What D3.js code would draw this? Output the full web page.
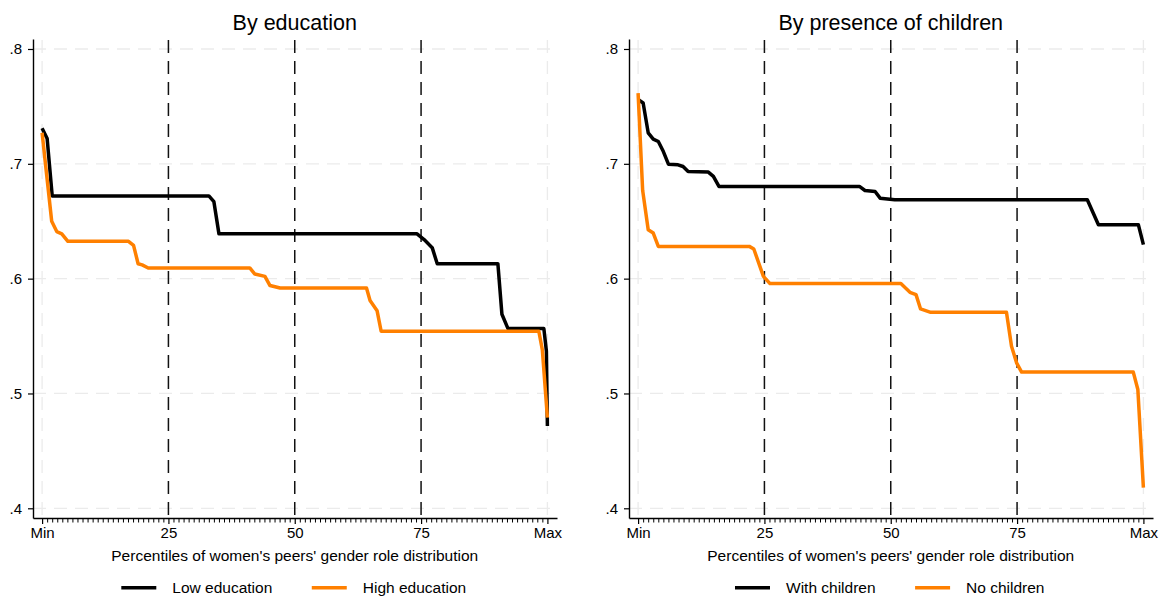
<!DOCTYPE html>
<html>
<head>
<meta charset="utf-8">
<script src="https://cdn.jsdelivr.net/npm/d3@7"></script>
<style>
  body { margin: 0; background: #fff; }
  svg { display: block; font-family: "Liberation Sans", Arial, sans-serif; }
</style>
</head>
<body>
<svg width="1163" height="600"></svg>
<script>
// [percentile, share]
const lowEducation = [[0,0.731],[1,0.722],[2,0.672],[33,0.672],[34,0.667],[35,0.639],[74.2,0.639],[75.6,0.634],[77.2,0.627],[78.2,0.613],[90.2,0.613],[91,0.569],[92.2,0.5565],[99.3,0.5565],[99.8,0.537],[100,0.4716]]
const highEducation = [[0,0.727],[1.9,0.65],[2.9,0.641],[3.9,0.639],[5.1,0.6325],[17.1,0.6325],[18.1,0.629],[19,0.613],[19.8,0.612],[21,0.6093],[41.1,0.6093],[42.1,0.604],[44.1,0.602],[45.1,0.594],[47.1,0.5918],[64.2,0.5918],[64.9,0.581],[66.3,0.572],[67.1,0.5542],[98.3,0.5542],[99,0.538],[100,0.4789]]
const withChildren = [[0,0.756],[1,0.753],[2,0.727],[3,0.7215],[4,0.7194],[5,0.7107],[6,0.6997],[7.9,0.6991],[8.9,0.6977],[9.9,0.6933],[13.9,0.6928],[14.9,0.689],[16,0.6803],[43.8,0.6803],[44.9,0.6768],[46.9,0.6759],[47.9,0.6701],[50.8,0.6687],[88.9,0.6687],[91.1,0.647],[99,0.647],[100,0.6296]]
const noChildren = [[0,0.7615],[0.9,0.677],[2,0.6426],[3,0.6397],[4,0.6281],[22,0.6281],[22.9,0.6258],[24.8,0.602],[26.1,0.5957],[52,0.5957],[53.8,0.5881],[55,0.5861],[55.9,0.5736],[57.9,0.5707],[72.9,0.5707],[73.9,0.5411],[74.9,0.5267],[75.9,0.5186],[98,0.5186],[98.9,0.5035],[100,0.418]]

const panelTitles = ["By education", "By presence of children"]
const seriesNames = [["Low education", "High education"], ["With children", "No children"]]
const yTicks = [0.4, 0.5, 0.6, 0.7, 0.8]
const xTicks = [0, 25, 50, 75, 100]
const xTickLabels = {0: "Min", 25: "25", 50: "50", 75: "75", 100: "Max"}
const refLines = [25, 50, 75]
const xTitle = "Percentiles of women's peers' gender role distribution"

const colors = ["#000000", "#ff8000"]

const svg = d3.select("svg")

const plotTop = 39, plotBottom = 518
const y = d3.scaleLinear().domain([0.39155, 0.8087]).range([plotBottom, plotTop])

function drawPanel(offset, title, names, lines) {
    const left = 33 + offset, right = 557 + offset
    const x = d3.scaleLinear().domain([-1.8, 101.9]).range([left, right])
    const g = svg.append("g")
    const mid = (x(0) + x(100)) / 2

    // light grid
    g.append("g").selectAll("line").data(yTicks).enter().append("line")
        .attr("x1", left).attr("x2", right - 3)
        .attr("y1", d => y(d)).attr("y2", d => y(d))
        .attr("stroke", "#ebebeb").attr("stroke-width", 1.3)
        .attr("stroke-dasharray", "13,8")
    g.append("g").selectAll("line").data([0, 100]).enter().append("line")
        .attr("x1", d => x(d)).attr("x2", d => x(d))
        .attr("y1", plotTop + 1).attr("y2", plotBottom)
        .attr("stroke", "#ebebeb").attr("stroke-width", 1.3)
        .attr("stroke-dasharray", "13,8")

    // quartile markers
    g.append("g").selectAll("line").data(refLines).enter().append("line")
        .attr("x1", d => x(d)).attr("x2", d => x(d))
        .attr("y1", plotTop + 1).attr("y2", plotBottom)
        .attr("stroke", "#111").attr("stroke-width", 1.5)
        .attr("stroke-dasharray", "13,8")

    // axes
    const minor = d3.range(1, 100).filter(d => d % 25 != 0)
    g.append("g").attr("transform", `translate(0,${plotBottom})`)
        .call(d3.axisBottom(x).tickValues(minor).tickSize(4.5).tickSizeOuter(0).tickFormat(""))
        .call(a => a.select(".domain").remove())
        .call(a => a.selectAll("line").attr("stroke-width", 1))
    const xAxis = g.append("g").attr("transform", `translate(0,${plotBottom})`)
        .call(d3.axisBottom(x).tickValues(xTicks).tickSize(6).tickPadding(3.5).tickSizeOuter(0)
            .tickFormat(d => xTickLabels[d]))
    const yAxis = g.append("g").attr("transform", `translate(${left},0)`)
        .call(d3.axisLeft(y).tickValues(yTicks).tickSize(5).tickPadding(6).tickSizeOuter(0)
            .tickFormat(d => d3.format(".1f")(d).replace(/^0/, "")))
    for (const a of [xAxis, yAxis]) {
        a.selectAll("text").attr("font-size", 15).attr("fill", "#000").attr("font-family", null)
        a.selectAll("line").attr("stroke", "#000").attr("stroke-width", 1.2)
        a.select(".domain").attr("stroke", "#000").attr("stroke-width", 1.4)
    }

    // series
    const line = d3.line().x(d => x(d[0])).y(d => y(d[1]))
    lines.forEach((data, i) => {
        g.append("path").datum(data)
            .attr("d", line)
            .attr("fill", "none")
            .attr("stroke", colors[i])
            .attr("stroke-width", 3.5)
            .attr("stroke-linejoin", "round")
    })

    // titles
    g.append("text").attr("x", mid).attr("y", 30)
        .attr("text-anchor", "middle").attr("font-size", 21.5)
        .text(title)
    g.append("text").attr("x", mid).attr("y", 560.5)
        .attr("text-anchor", "middle").attr("font-size", 15.5)
        .text(xTitle)

    // legend, centred under the panel
    const leg = g.append("g")
    let pos = 0
    names.forEach((name, i) => {
        if (i > 0) pos += 39.5
        leg.append("line")
            .attr("x1", pos).attr("x2", pos + 35)
            .attr("y1", 587.7).attr("y2", 587.7)
            .attr("stroke", colors[i]).attr("stroke-width", 3.5)
        const t = leg.append("text").attr("x", pos + 51).attr("y", 593.3)
            .attr("font-size", 15.5).text(name)
        pos += 51 + t.node().getComputedTextLength()
    })
    leg.attr("transform", `translate(${mid - pos / 2 - 1},0)`)
}

drawPanel(0, panelTitles[0], seriesNames[0], [lowEducation, highEducation])
drawPanel(596, panelTitles[1], seriesNames[1], [withChildren, noChildren])
</script>
</body>
</html>
